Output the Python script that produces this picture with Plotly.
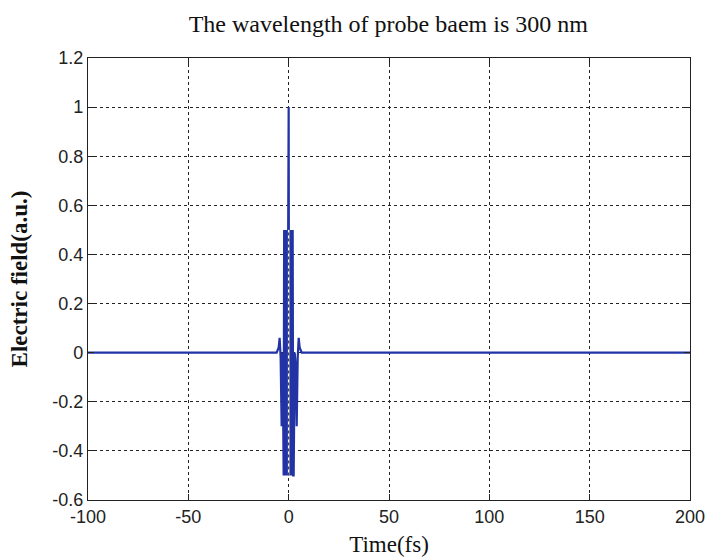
import plotly.graph_objects as go

# Probe pulse samples: time (fs) and normalized electric field (a.u.)
time_fs = [-100, -6.0, -5.0, -4.5, -4.0, -3.5, -3.0,
           -2.5, -2.25, -2.0, -1.75, -1.5, -1.25, -1.0, -0.75, -0.5, -0.25,
           0.0,
           0.25, 0.5, 0.75, 1.0, 1.25, 1.5, 1.75, 2.0, 2.25, 2.5,
           3.0, 3.5, 4.0, 4.5, 5.0, 5.5, 6.5, 200]
field_au = [0.0, 0.0, 0.02, 0.06, -0.02, -0.30, 0.0,
            -0.50, 0.50, -0.50, 0.50, -0.50, 0.50, -0.50, 0.50, -0.50, 0.50,
            1.00,
            -0.50, 0.50, -0.50, 0.50, -0.50, 0.50, -0.50, 0.50, -0.50, -0.50,
            0.0, -0.05, -0.30, -0.02, 0.06, 0.02, 0.0, 0.0]

x_ticks = [-100, -50, 0, 50, 100, 150, 200]
x_labels = ["-100", "-50", "0", "50", "100", "150", "200"]
y_ticks = [-0.6, -0.4, -0.2, 0, 0.2, 0.4, 0.6, 0.8, 1.0, 1.2]
y_labels = ["-0.6", "-0.4", "-0.2", "0", "0.2", "0.4", "0.6", "0.8", "1", "1.2"]

serif = "Liberation Serif, Times New Roman, serif"
sans = "Liberation Sans, Arial, sans-serif"

fig = go.Figure()
fig.add_trace(go.Scatter(
    x=time_fs, y=field_au, mode="lines",
    line=dict(color="#2233a6", width=2.2, simplify=False),
    showlegend=False,
))

axis_common = dict(
    showline=True, linecolor="#222", linewidth=1.2, mirror="ticks",
    ticks="inside", ticklen=6, tickcolor="#222",
    showgrid=True, gridcolor="#222", gridwidth=1, griddash="3px,3px",
    zeroline=False, automargin=False,
    tickfont=dict(family=sans, size=18, color="#222"),
)

fig.update_xaxes(range=[-100, 200], tickvals=x_ticks, ticktext=x_labels,
                 title=dict(text="Time(fs)", font=dict(family=serif, size=23, color="#111"), standoff=11),
                 **axis_common)
fig.update_yaxes(range=[-0.6, 1.2], tickvals=y_ticks, ticktext=y_labels,
                 title=dict(text="<b>Electric field(a.u.)</b>", font=dict(family=serif, size=23, color="#111"), standoff=18),
                 **axis_common)

# the x = 0 dotted grid line shows through the centre of the pulse
fig.add_shape(type="line", xref="x", yref="y", x0=0, x1=0, y0=-0.5, y1=0.5,
              line=dict(color="white", width=1.5), layer="above")
fig.add_shape(type="line", xref="x", yref="y", x0=0, x1=0, y0=-0.5, y1=0.5,
              line=dict(color="#222", width=1, dash="3px,3px"), layer="above")

fig.update_layout(
    width=706, height=557,
    margin=dict(l=88, r=16, t=58, b=57),
    paper_bgcolor="white", plot_bgcolor="white",
    title=dict(text="The wavelength of probe baem is 300 nm", x=0.55, xanchor="center",
               y=0.957, yanchor="middle",
               font=dict(family=serif, size=24, color="#111")),
)

fig.write_html("out.html")
